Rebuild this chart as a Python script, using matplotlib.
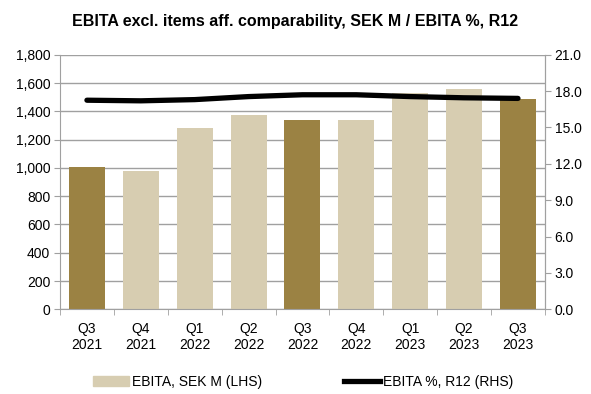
import matplotlib.pyplot as plt
import numpy as np
from matplotlib.patches import Patch
from matplotlib.lines import Line2D

plt.rcParams['font.family'] = ['Liberation Sans', 'DejaVu Sans']

quarters = ['Q3\n2021', 'Q4\n2021', 'Q1\n2022', 'Q2\n2022', 'Q3\n2022',
            'Q4\n2022', 'Q1\n2023', 'Q2\n2023', 'Q3\n2023']
ebita = [1005, 976, 1280, 1374, 1336, 1338, 1527, 1560, 1487]
margin = [17.25, 17.2, 17.3, 17.55, 17.7, 17.7, 17.55, 17.45, 17.4]
highlight = [True, False, False, False, True, False, False, False, True]

dark = '#9b8243'
light = '#d7cdb1'
grey = '#a0a0a0'

fig = plt.figure(figsize=(5.91, 3.94), dpi=100)
ax = fig.add_axes([0.1015, 0.215, 0.8205, 0.646])
x = np.arange(len(quarters))
colors = [dark if h else light for h in highlight]
ax.bar(x, ebita, width=0.67, color=colors, zorder=2)
ax.set_xlim(-0.5, len(quarters) - 0.5)
ax.set_ylim(0, 1800)
ax.set_yticks(np.arange(0, 1801, 200))
ax.set_yticklabels([f'{v:,}' for v in range(0, 1801, 200)])
ax.yaxis.grid(True, color=grey, linewidth=1, zorder=0)
ax.set_axisbelow(True)
ax.set_xticks(x)
ax.set_xticklabels(quarters)
ax.set_xticks(np.arange(-0.5, len(quarters)), minor=True)
ax.tick_params(axis='x', which='major', length=0, labelsize=10, pad=9)
ax.tick_params(axis='x', which='minor', length=4, color=grey)
ax.tick_params(axis='y', length=4, color=grey, labelsize=10, pad=3)
ax.spines['top'].set_visible(False)
for s in ['left', 'right', 'bottom']:
    ax.spines[s].set_color(grey)

ax2 = ax.twinx()
ax2.plot(x, margin, color='black', linewidth=3.8, solid_capstyle='round', zorder=3)
ax2.set_ylim(0, 21)
ax2.set_yticks(np.arange(0, 21.1, 3))
ax2.set_yticklabels([f'{v:.1f}' for v in np.arange(0, 21.1, 3)])
ax2.tick_params(axis='y', length=4, color=grey, labelsize=10, pad=3)
for s in ['top', 'left', 'bottom']:
    ax2.spines[s].set_visible(False)
ax2.spines['right'].set_color(grey)

fig.text(0.5, 0.945, 'EBITA excl. items aff. comparability, SEK M / EBITA %, R12',
         fontsize=11.5, fontweight='bold', ha='center', va='center')

handles = [Patch(color=light), Line2D([0], [0], color='black', linewidth=3.8)]
fig.legend(handles, ['EBITA, SEK M (LHS)', 'EBITA %, R12 (RHS)'],
           loc='center', bbox_to_anchor=(0.513, 0.03), ncol=2, frameon=False,
           fontsize=10, columnspacing=5.9, handlelength=2.6, handletextpad=0.2)

fig.savefig('out.png', dpi=100)
